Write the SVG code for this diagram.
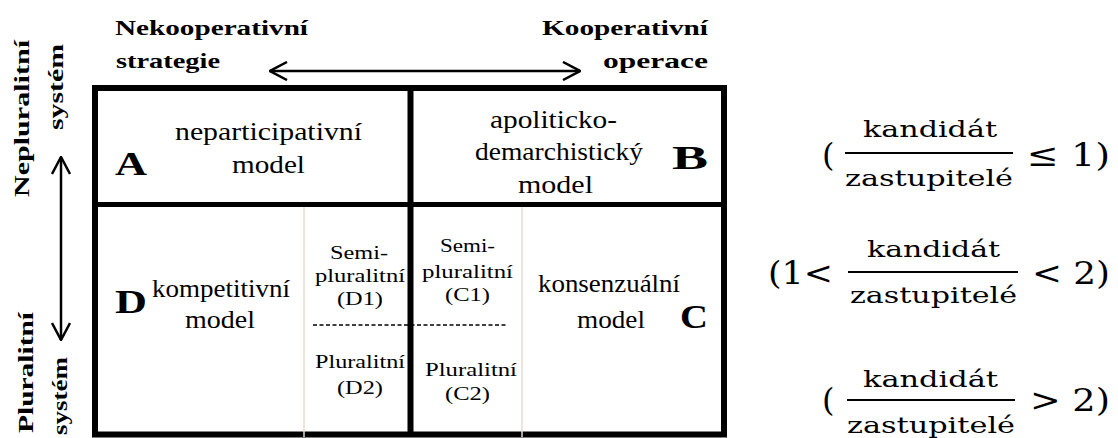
<svg xmlns="http://www.w3.org/2000/svg" width="1118" height="438" viewBox="0 0 1118 438">
<style>
.b{font-family:'Liberation Serif','Times New Roman',Tinos,'DejaVu Serif',serif;font-weight:bold;fill:#000}
.r{font-family:'Liberation Serif','Times New Roman',Tinos,'DejaVu Serif',serif;fill:#000}
.m{font-family:'DejaVu Serif','Liberation Serif',serif;fill:#000}
.frame{fill:none;stroke:#000;stroke-width:6}
.thin{stroke:#e4ddd0;stroke-width:1.5}
.dash{stroke:#000;stroke-width:1.5;stroke-dasharray:4 2.5}
.bar{stroke:#000;stroke-width:2}
.arr{stroke:#000;stroke-width:2.5;fill:none;marker-start:url(#ah);marker-end:url(#ah)}
</style>
<defs>
<marker id="ah" viewBox="0 0 20 20" refX="19" refY="10" markerWidth="20" markerHeight="20" markerUnits="userSpaceOnUse" orient="auto-start-reverse">
<path d="M2,1 L19,10 L2,19" fill="none" stroke="#000" stroke-width="2.5"/>
</marker>
</defs>
<rect width="1118" height="438" fill="#fff"/>

<g id="axis-labels">
<text class="b" x="115" y="35" font-size="22" textLength="193" lengthAdjust="spacingAndGlyphs">Nekooperativní</text>
<text class="b" x="116" y="68" font-size="22" textLength="104" lengthAdjust="spacingAndGlyphs">strategie</text>
<text class="b" x="542" y="35" font-size="22" textLength="166" lengthAdjust="spacingAndGlyphs">Kooperativní</text>
<text class="b" x="603" y="68" font-size="22" textLength="105" lengthAdjust="spacingAndGlyphs">operace</text>
<text class="b" font-size="22" transform="translate(29,197) rotate(-90)" textLength="157" lengthAdjust="spacingAndGlyphs">Nepluralitní</text>
<text class="b" font-size="22" transform="translate(63,130) rotate(-90)" textLength="86" lengthAdjust="spacingAndGlyphs">systém</text>
<text class="b" font-size="22" transform="translate(33,433) rotate(-90)" textLength="121" lengthAdjust="spacingAndGlyphs">Pluralitní</text>
<text class="b" font-size="22" transform="translate(67,435) rotate(-90)" textLength="78" lengthAdjust="spacingAndGlyphs">systém</text>
</g>

<g id="connectors">
<line class="arr" x1="270" y1="71" x2="580" y2="71"/>
<line class="arr" x1="61" y1="157" x2="61" y2="340"/>
</g>

<g id="grid">
<rect class="frame" x="95" y="88" width="629" height="346.5"/>
<line x1="410.5" y1="88" x2="410.5" y2="434.5" stroke="#000" stroke-width="6"/>
<line x1="95" y1="204.5" x2="724" y2="204.5" stroke="#000" stroke-width="5"/>
<line class="thin" x1="304" y1="207" x2="304" y2="437"/>
<line class="thin" x1="522" y1="207" x2="522" y2="437"/>
<line class="dash" x1="313" y1="325" x2="506" y2="325"/>
</g>

<g id="cell-A">
<text class="b" x="115" y="175" font-size="33" textLength="32" lengthAdjust="spacingAndGlyphs">A</text>
<text class="r" x="175" y="140" font-size="26" textLength="187" lengthAdjust="spacingAndGlyphs">neparticipativní</text>
<text class="r" x="232" y="173" font-size="26" textLength="73" lengthAdjust="spacingAndGlyphs">model</text>
</g>

<g id="cell-B">
<text class="r" x="490" y="128" font-size="26" textLength="127" lengthAdjust="spacingAndGlyphs">apoliticko-</text>
<text class="r" x="475" y="160" font-size="26" textLength="168" lengthAdjust="spacingAndGlyphs">demarchistický</text>
<text class="r" x="518" y="193" font-size="26" textLength="75" lengthAdjust="spacingAndGlyphs">model</text>
<text class="b" x="672" y="169" font-size="33" textLength="36" lengthAdjust="spacingAndGlyphs">B</text>
</g>

<g id="cell-D">
<text class="b" x="115" y="313" font-size="33" textLength="32" lengthAdjust="spacingAndGlyphs">D</text>
<text class="r" x="152" y="297" font-size="26" textLength="138" lengthAdjust="spacingAndGlyphs">kompetitivní</text>
<text class="r" x="185" y="328" font-size="26" textLength="70" lengthAdjust="spacingAndGlyphs">model</text>
</g>

<g id="cell-D1">
<text class="r" x="330" y="259" font-size="19" textLength="58" lengthAdjust="spacingAndGlyphs">Semi-</text>
<text class="r" x="315" y="282" font-size="19" textLength="90" lengthAdjust="spacingAndGlyphs">pluralitní</text>
<text class="r" x="337" y="305" font-size="19" textLength="46" lengthAdjust="spacingAndGlyphs">(D1)</text>
</g>

<g id="cell-D2">
<text class="r" x="315" y="368" font-size="19" textLength="90" lengthAdjust="spacingAndGlyphs">Pluralitní</text>
<text class="r" x="337" y="394" font-size="19" textLength="46" lengthAdjust="spacingAndGlyphs">(D2)</text>
</g>

<g id="cell-C1">
<text class="r" x="440" y="252" font-size="19" textLength="55" lengthAdjust="spacingAndGlyphs">Semi-</text>
<text class="r" x="422" y="278" font-size="19" textLength="91" lengthAdjust="spacingAndGlyphs">pluralitní</text>
<text class="r" x="445" y="301" font-size="19" textLength="45" lengthAdjust="spacingAndGlyphs">(C1)</text>
</g>

<g id="cell-C2">
<text class="r" x="425" y="376" font-size="19" textLength="92" lengthAdjust="spacingAndGlyphs">Pluralitní</text>
<text class="r" x="445" y="400" font-size="19" textLength="45" lengthAdjust="spacingAndGlyphs">(C2)</text>
</g>

<g id="cell-C">
<text class="r" x="538" y="292" font-size="26" textLength="142" lengthAdjust="spacingAndGlyphs">konsenzuální</text>
<text class="r" x="577" y="328" font-size="26" textLength="68" lengthAdjust="spacingAndGlyphs">model</text>
<text class="b" x="680" y="328" font-size="33" textLength="28" lengthAdjust="spacingAndGlyphs">C</text>
</g>

<g id="formula-1">
<text class="m" x="822" y="166" font-size="32">(</text>
<text class="m" x="863" y="137" font-size="22" textLength="134" lengthAdjust="spacingAndGlyphs">kandidát</text>
<line class="bar" x1="845" y1="153" x2="1013" y2="153"/>
<text class="m" x="845" y="186" font-size="22" textLength="168" lengthAdjust="spacingAndGlyphs">zastupitelé</text>
<text class="m" x="1027" y="166" font-size="32" textLength="83" lengthAdjust="spacingAndGlyphs">≤ 1)</text>
</g>

<g id="formula-2">
<text class="m" x="768" y="284" font-size="32" textLength="65" lengthAdjust="spacingAndGlyphs">(1&lt;</text>
<text class="m" x="867" y="257" font-size="22" textLength="133" lengthAdjust="spacingAndGlyphs">kandidát</text>
<line class="bar" x1="848" y1="272" x2="1018" y2="272"/>
<text class="m" x="850" y="303" font-size="22" textLength="167" lengthAdjust="spacingAndGlyphs">zastupitelé</text>
<text class="m" x="1032" y="284" font-size="32" textLength="78" lengthAdjust="spacingAndGlyphs">&lt; 2)</text>
</g>

<g id="formula-3">
<text class="m" x="822" y="411" font-size="32">(</text>
<text class="m" x="863" y="387" font-size="22" textLength="135" lengthAdjust="spacingAndGlyphs">kandidát</text>
<line class="bar" x1="847" y1="400" x2="1015" y2="400"/>
<text class="m" x="847" y="433" font-size="22" textLength="168" lengthAdjust="spacingAndGlyphs">zastupitelé</text>
<text class="m" x="1030" y="411" font-size="32" textLength="80" lengthAdjust="spacingAndGlyphs">&gt; 2)</text>
</g>
</svg>
